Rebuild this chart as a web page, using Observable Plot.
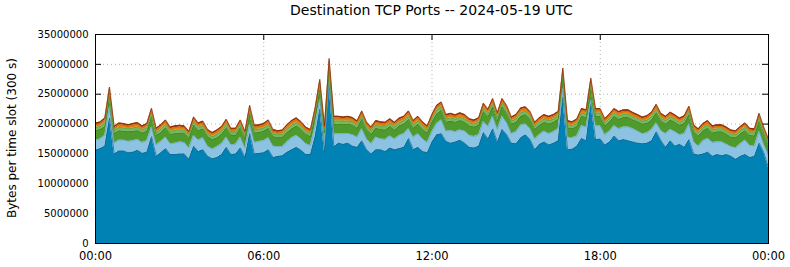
<!DOCTYPE html>
<html><head><meta charset="utf-8">
<script src="https://cdn.jsdelivr.net/npm/d3@7"></script>
<script src="https://cdn.jsdelivr.net/npm/@observablehq/plot@0.6"></script>
<style>
body{margin:0;background:#fff;font-family:"DejaVu Sans",sans-serif;}
#wrap{position:relative;width:790px;height:267px;}
#title{position:absolute;left:95px;width:673px;top:2px;text-align:center;font-size:14px;line-height:17px;color:#000;}
#ylabel{position:absolute;left:-88px;top:131px;width:200px;height:14px;line-height:14px;text-align:center;font-size:12px;color:#000;transform:rotate(-90deg);transform-origin:50% 50%;white-space:nowrap;}
#chart{position:absolute;left:0;top:0;}
#chart g[aria-label="x-axis tick label"] text{font-size:11.5px;}
</style></head><body>
<div id="wrap"><div id="chart"></div><div id="title">Destination TCP Ports -- 2024-05-19 UTC</div><div id="ylabel">Bytes per time slot (300 s)</div></div>
<script>
// Values in millions of bytes per 300 s slot, sampled every 10 minutes (145 points)
const seriesNames = ["443", "80", "22", "993", "25", "other"];
const blue = [15.6,15.9,16.3,21.0,15.0,15.5,15.5,15.2,15.3,15.6,15.1,15.3,17.9,14.6,15.2,15.9,14.9,14.9,15.0,15.0,14.1,16.3,15.4,15.7,14.6,
14.2,14.4,14.9,16.1,14.9,15.0,16.0,14.4,18.4,15.0,15.1,15.2,15.7,14.4,14.6,14.7,15.3,15.7,16.1,15.6,14.9,14.9,17.9,22.5,
15.3,26.6,16.2,16.8,16.6,16.8,16.3,16.1,17.2,15.7,15.0,15.7,15.7,15.4,16.0,15.7,15.9,16.1,17.6,15.7,16.1,15.4,15.2,17.0,
18.2,18.4,17.1,16.8,17.0,17.3,16.8,16.1,16.0,16.3,18.6,17.5,19.2,17.0,19.1,18.2,16.8,16.7,17.7,18.2,17.4,15.7,16.6,17.0,
16.5,16.8,17.2,24.5,15.7,15.8,16.3,17.6,17.2,23.4,17.4,17.5,16.5,17.0,18.0,17.2,17.4,17.2,17.0,16.8,16.7,16.8,17.2,18.7,
17.2,16.1,17.2,16.3,16.6,16.1,17.4,15.0,14.8,15.0,15.3,14.6,14.9,14.7,14.9,14.6,14.1,14.6,14.9,14.4,14.6,16.8,15.2,12.7];
const lightBlue = [1.7,1.6,1.8,1.9,1.8,1.8,1.8,1.9,1.9,1.8,1.8,1.9,1.6,1.9,1.9,1.9,1.8,1.9,2.0,1.9,1.9,1.8,1.9,2.0,1.7,
1.6,1.8,1.8,1.7,1.6,1.6,1.8,1.6,1.6,1.9,2.0,2.0,2.0,1.9,1.6,1.5,1.7,2.0,2.0,1.9,1.8,1.5,1.8,1.6,
1.6,0.6,2.1,1.6,1.8,1.6,1.9,1.7,2.0,1.8,1.7,2.1,1.8,2.0,2.0,1.8,2.2,2.3,1.6,2.1,2.3,2.1,1.7,1.7,
1.9,2.3,1.7,2.1,1.7,1.7,2.0,2.0,1.9,1.9,1.8,2.1,2.1,2.1,2.2,2.0,1.6,2.0,2.1,1.8,1.8,1.8,1.6,1.8,
1.9,1.9,2.0,1.5,2.1,1.9,1.7,2.1,2.3,0.6,2.3,2.2,1.7,1.8,1.7,2.0,2.1,2.3,2.2,2.0,1.7,1.7,1.9,1.5,
1.7,2.3,1.9,2.4,1.6,2.3,2.6,2.0,1.5,2.2,2.3,2.3,2.1,2.3,1.7,1.6,1.9,2.1,2.4,2.0,1.7,2.0,1.4,2.1];
const darkGreen = [1.6,1.6,1.5,1.7,1.6,1.6,1.5,1.6,1.6,1.5,1.6,1.6,1.7,1.6,1.5,1.6,1.6,1.6,1.5,1.6,1.6,1.7,1.6,1.5,1.6,
1.6,1.5,1.6,1.6,1.6,1.5,1.6,1.6,1.7,1.6,1.5,1.6,1.6,1.6,1.5,1.6,1.6,1.5,1.6,1.6,1.6,1.5,1.6,1.7,
1.6,1.9,1.6,1.6,1.5,1.6,1.6,1.5,1.6,1.6,1.6,1.5,1.6,1.6,1.6,1.5,1.6,1.6,1.6,1.5,1.6,1.6,1.6,1.6,
1.6,1.6,1.5,1.6,1.6,1.6,1.5,1.6,1.6,1.6,1.7,1.6,1.6,1.5,1.6,1.6,1.6,1.6,1.5,1.6,1.6,1.6,1.6,1.5,
1.6,1.6,1.6,1.7,1.6,1.5,1.6,1.6,1.6,1.9,1.6,1.6,1.5,1.6,1.6,1.6,1.6,1.6,1.5,1.6,1.6,1.6,1.6,1.7,
1.6,1.6,1.6,1.6,1.6,1.7,1.6,1.7,1.7,1.7,1.7,1.6,1.7,1.7,1.7,1.6,1.7,1.7,1.6,1.7,1.7,1.6,1.7,1.6];
const lightGreen = [.55,.5,.6,.6,.5,.55,.55,.5,.55,.6,.5,.55,.6,.5,.55,.55,.5,.55,.55,.5,.5,.6,.55,.55,.5,
.5,.55,.55,.6,.5,.5,.55,.5,.6,.55,.55,.55,.6,.5,.5,.5,.55,.6,.55,.55,.5,.5,.6,.7,
.5,.8,.6,.55,.55,.55,.55,.5,.6,.5,.5,.55,.55,.55,.55,.55,.55,.55,.6,.55,.55,.55,.5,.55,
.6,.6,.55,.55,.5,.55,.55,.5,.5,.5,.6,.55,.6,.55,.6,.55,.5,.55,.6,.55,.55,.5,.5,.55,
.55,.55,.55,.7,.5,.5,.5,.55,.55,.8,.55,.55,.5,.55,.55,.55,.55,.55,.5,.5,.5,.55,.55,.6,
.55,.55,.55,.5,.5,.55,.6,.5,.5,.5,.55,.5,.5,.5,.5,.5,.5,.5,.55,.5,.5,.6,.5,.45];
const orange = [.45,.45,.5,.6,.4,.45,.45,.4,.45,.45,.4,.45,.5,.4,.45,.45,.4,.45,.45,.4,.4,.5,.45,.45,.4,
.4,.45,.45,.5,.4,.4,.45,.4,.5,.45,.45,.45,.5,.4,.4,.4,.45,.5,.5,.45,.4,.4,.5,.6,
.4,.6,.5,.45,.45,.45,.45,.45,.5,.45,.4,.45,.45,.45,.45,.45,.45,.45,.5,.45,.45,.45,.4,.45,
.5,.5,.45,.45,.45,.45,.45,.4,.4,.45,.5,.45,.5,.45,.5,.45,.4,.45,.5,.45,.45,.4,.45,.45,
.45,.45,.45,.6,.4,.4,.45,.45,.45,.6,.45,.45,.4,.45,.45,.45,.45,.45,.45,.4,.4,.45,.45,.5,
.45,.45,.45,.45,.4,.45,.5,.4,.4,.4,.45,.4,.4,.4,.4,.4,.4,.4,.45,.4,.4,.5,.4,.4];
const red = [.3,.3,.3,.4,.3,.3,.3,.3,.3,.3,.3,.3,.35,.3,.3,.3,.3,.3,.3,.3,.3,.3,.3,.3,.3,
.3,.3,.3,.3,.3,.3,.3,.3,.35,.3,.3,.3,.3,.3,.3,.3,.3,.3,.3,.3,.3,.3,.3,.4,
.3,.5,.3,.3,.3,.3,.3,.3,.3,.3,.3,.3,.3,.3,.3,.3,.3,.3,.3,.3,.3,.3,.3,.3,
.3,.3,.3,.3,.3,.3,.3,.3,.3,.3,.3,.3,.3,.3,.3,.3,.3,.3,.3,.3,.3,.3,.3,.3,
.3,.3,.3,.4,.3,.3,.3,.3,.3,.4,.3,.3,.3,.3,.3,.3,.3,.3,.3,.3,.3,.3,.3,.3,
.3,.3,.3,.3,.3,.3,.3,.3,.3,.3,.3,.3,.3,.3,.3,.3,.3,.3,.3,.3,.3,.3,.3,.3];
const yTickValues = [0, 5000000, 10000000, 15000000, 20000000, 25000000, 30000000, 35000000];
const xTickHours = [0, 6, 12, 18, 24];

const fills = ["#0082b4", "#8cc3e2", "#4f9a2c", "#78b85c", "#e5810e", "#a83a0b"];
const edges = ["#15638c", "#6aa5c8", "#3d7f20", "#5d9e43", "#c46a08", "#802a06"];

const seriesValues = [blue, lightBlue, darkGreen, lightGreen, orange, red];
seriesValues.forEach((a, k) => { if (a.length !== 145) throw new Error("bad length " + seriesNames[k] + " " + a.length); });

const start = Date.UTC(2024, 4, 19, 0, 0);
const times = blue.map((_, i) => new Date(start + i * 600000));
const rows = times.map((t, i) => {
  const r = {time: t};
  seriesNames.forEach((s, k) => r[s] = seriesValues[k][i] * 1e6);
  return r;
});
const stacked = d3.stack().keys(seriesNames)(rows);
const table = stacked.flatMap(layer => layer.map(p => ({time: p.data.time, series: layer.key, y1: p[0], y2: p[1]})));
const xTicks = xTickHours.map(h => new Date(start + h * 3600000));

const chart = Plot.plot({
  width: 790, height: 267,
  marginLeft: 95, marginRight: 22, marginTop: 34, marginBottom: 24,
  style: {fontFamily: "DejaVu Sans", fontSize: "10px", background: "white", color: "black"},
  x: {type: "utc", domain: [xTicks[0], xTicks[xTicks.length - 1]]},
  y: {domain: [0, 35000000]},
  color: {domain: seriesNames, range: fills},
  marks: [
    Plot.ruleY(yTickValues.slice(1, -1), {stroke: "#b0b0b0", strokeDasharray: "1,3"}),
    Plot.ruleX(xTicks.slice(1, -1), {stroke: "#b0b0b0", strokeDasharray: "1,3"}),
    Plot.tickY(yTickValues, {insetRight: 667, stroke: "black"}),
    Plot.tickY(yTickValues, {insetLeft: 667, stroke: "black"}),
    Plot.tickX(xTicks, {insetBottom: 203, stroke: "black"}),
    Plot.areaY(table, {x: "time", y1: "y1", y2: "y2", fill: "series", z: "series"}),
    ...seriesNames.map((s, k) => Plot.lineY(table.filter(d => d.series === s), {x: "time", y: "y2", stroke: edges[k], strokeWidth: 0.7})),
    Plot.frame({stroke: "black"}),
    Plot.axisY({ticks: yTickValues, tickSize: 0, tickPadding: 7, tickFormat: d => String(d), label: null}),
    Plot.axisX({ticks: xTicks, tickSize: 0, tickPadding: 8, tickFormat: d3.utcFormat("%H:%M"), label: null, fontSize: 11.5})
  ]
});
document.getElementById("chart").appendChild(chart);
</script>
</body></html>
